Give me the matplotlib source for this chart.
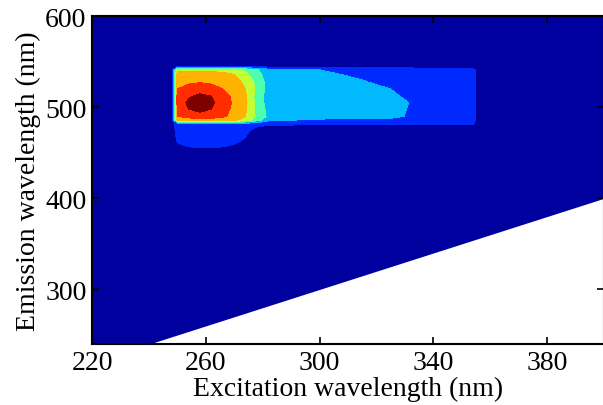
import numpy as np
import matplotlib
matplotlib.use("Agg")
import matplotlib.pyplot as plt

plt.rcParams['font.family'] = 'serif'
plt.rcParams['font.serif'] = ['Liberation Serif', 'DejaVu Serif']

# excitation / emission grid of the EEM (nm)
ex_nm = [220, 248, 250, 254, 258, 262, 266, 270, 274, 278, 282, 300, 315, 325, 333, 345, 354, 357, 400]
em_nm = [240, 440, 452, 462, 474, 482, 486, 490, 498, 505, 512, 520, 528, 536, 541, 545, 600]

# fluorescence intensity (a.u.), one row per emission wavelength
intensity = [
    [30, 40, 30, 30, 30, 30, 30, 30, 30, 30, 30, 30, 30, 30, 30, 30, 30, 30, 20],   # 240
    [30, 40, 30, 30, 30, 30, 30, 30, 30, 30, 30, 30, 30, 30, 30, 30, 30, 30, 20],   # 440
    [30, 40, 60, 75, 80, 80, 75, 60, 45, 40, 40, 40, 40, 40, 40, 40, 40, 40, 20],   # 452
    [30, 40, 105, 130, 140, 140, 130, 115, 80, 40, 40, 40, 40, 40, 40, 40, 40, 40, 20],  # 462
    [30, 40, 140, 165, 170, 170, 165, 150, 130, 40, 40, 40, 40, 40, 40, 40, 40, 40, 20],  # 474
    [30, 40, 160, 180, 185, 185, 180, 175, 170, 150, 120, 110, 110, 110, 110, 110, 110, 40, 20],  # 482
    [30, 40, 520, 560, 580, 570, 540, 520, 470, 350, 230, 180, 180, 175, 160, 140, 120, 40, 20],  # 486
    [30, 40, 600, 630, 650, 640, 620, 560, 500, 380, 280, 260, 250, 230, 180, 140, 120, 40, 20],  # 490
    [30, 40, 630, 700, 740, 700, 650, 570, 510, 370, 270, 265, 255, 235, 185, 150, 120, 40, 20],  # 498
    [30, 40, 640, 720, 790, 715, 660, 580, 520, 360, 260, 265, 255, 240, 190, 150, 120, 40, 20],  # 505
    [30, 40, 640, 690, 720, 700, 650, 570, 510, 360, 260, 260, 245, 220, 170, 150, 120, 40, 20],  # 512
    [30, 40, 600, 640, 660, 640, 600, 550, 500, 370, 260, 245, 225, 200, 160, 145, 120, 40, 20],  # 520
    [30, 40, 560, 580, 590, 580, 560, 530, 480, 370, 260, 235, 205, 175, 150, 140, 120, 40, 20],  # 528
    [30, 40, 540, 550, 550, 545, 530, 500, 420, 340, 245, 215, 185, 160, 145, 135, 120, 40, 20],  # 536
    [30, 40, 470, 480, 480, 470, 460, 430, 380, 310, 230, 200, 170, 150, 140, 130, 120, 40, 20],  # 541
    [30, 40, 60, 60, 60, 60, 60, 60, 60, 60, 60, 60, 60, 60, 60, 60, 60, 40, 20],   # 545
    [30, 30, 30, 30, 30, 30, 30, 30, 30, 30, 30, 30, 30, 30, 30, 30, 30, 30, 20],   # 600
]
levels = np.arange(0, 801, 100)

xticks = [220, 260, 300, 340, 380]
yticks = [300, 400, 500, 600]

fig = plt.figure(figsize=(6.03, 4.06), dpi=100)
ax = fig.add_axes([0.1526, 0.150, 0.849, 0.808])

X, Y = np.meshgrid(ex_nm, em_nm)
# band midpoints spread over the jet range (navy -> dark red)
ax.contourf(X, Y, np.array(intensity), levels=levels, cmap='jet',
            vmin=levels[0] + 30, vmax=levels[-1] - 50)

# no data below the Rayleigh line (emission < excitation)
edge = np.array([min(em_nm), max(ex_nm)])
ax.fill_between(edge, min(em_nm), edge, color='white', linewidth=0)

ax.set_xlim(220, 400)
ax.set_ylim(240, 600)
ax.set_xticks(xticks)
ax.set_yticks(yticks)
ax.tick_params(direction='in', length=5, width=1.2, labelsize=20, top=True, right=True, pad=4)
for s in ax.spines.values():
    s.set_linewidth(1.5)
ax.set_xlabel('Excitation wavelength (nm)', fontsize=20, labelpad=1)
ax.set_ylabel('Emission wavelength (nm)', fontsize=20, labelpad=3)

fig.savefig('out.png', dpi=100)
